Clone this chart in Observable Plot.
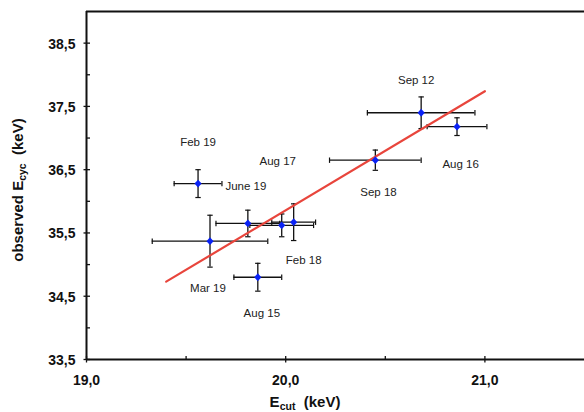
<!DOCTYPE html>
<html><head><meta charset="utf-8">
<script src="https://cdn.jsdelivr.net/npm/d3@7"></script>
<script src="https://cdn.jsdelivr.net/npm/@observablehq/plot@0.6"></script>
<style>
body{margin:0;background:#fff}
#chart svg{display:block}
</style>
</head><body><div id="chart"></div>
<script>
// Observations
const ecut    = [19.56, 19.62, 19.81, 19.98, 20.04, 19.86, 20.45, 20.68, 20.86];
const ecutErr = [0.12, 0.29, 0.16, 0.16, 0.11, 0.12, 0.23, 0.27, 0.15];
const ecyc    = [36.28, 35.37, 35.65, 35.62, 35.67, 34.80, 36.65, 37.40, 37.18];
const ecycErr = [0.22, 0.41, 0.21, 0.18, 0.29, 0.22, 0.16, 0.25, 0.14];

// Linear fit end points
const fitX = [19.40, 21.00];
const fitY = [34.73, 37.74];

// Annotations (data coordinates)
const labelText = ["Feb 19", "June 19", "Aug 17", "Mar 19", "Aug 15", "Feb 18", "Sep 12", "Sep 18", "Aug 16"];
const labelX    = [19.56, 19.80, 19.96, 19.61, 19.88, 20.09, 20.655, 20.466, 20.878];
const labelY    = [36.93, 36.24, 36.63, 34.63, 34.23, 35.07, 37.91, 36.145, 36.59];

// Axis ticks
const xTicks = [19.0, 20.0, 21.0];
const xMinor = [19.5, 20.5];
const yTicks = [33.5, 34.5, 35.5, 36.5, 37.5, 38.5];
const yMinor = [34, 35, 36, 37, 38];

const rows = ecut.map((x, i) => ({x, ex: ecutErr[i], y: ecyc[i], ey: ecycErr[i]}));
const fit = fitX.map((x, i) => ({x, y: fitY[i]}));
const labels = labelText.map((t, i) => ({t, x: labelX[i], y: labelY[i]}));
const fmt = d => d3.format(".1f")(d).replace(".", ",");

const seg = (x0, y0, x1, y1) => ({draw(ctx) { ctx.moveTo(x0, y0); ctx.lineTo(x1, y1); }});
const hCap = seg(-2.7, 0, 2.7, 0);
const vCap = seg(0, -2.7, 0, 2.7);
const yMajor = seg(-3, 0, 3.5, 0);
const yMin = seg(0, 0, 3.5, 0);
const xMajor = seg(0, -3.5, 0, 3);
const xMin = seg(0, 0, 0, -3.5);
const diamond = {draw(ctx) { const r = 3.9; ctx.moveTo(0, -r); ctx.lineTo(r * 0.92, 0); ctx.lineTo(0, r); ctx.lineTo(-r * 0.92, 0); ctx.closePath(); }};

const font = "'Liberation Sans', Arial, Helvetica, sans-serif";
const ink = "#111";

const chart = Plot.plot({
  width: 584, height: 412,
  marginLeft: 86, marginRight: 0, marginTop: 11, marginBottom: 53,
  style: {fontFamily: font, background: "#fff"},
  x: {domain: [19, 21.5], axis: null},
  y: {domain: [33.5, 39], axis: null},
  marks: [
    // error bars
    Plot.ruleY(rows, {y: "y", x1: d => d.x - d.ex, x2: d => d.x + d.ex, stroke: ink, strokeWidth: 1.3}),
    Plot.ruleX(rows, {x: "x", y1: d => d.y - d.ey, y2: d => d.y + d.ey, stroke: ink, strokeWidth: 1.3}),
    Plot.dot(rows, {x: d => d.x - d.ex, y: "y", symbol: vCap, fill: "none", stroke: ink, strokeWidth: 1.2}),
    Plot.dot(rows, {x: d => d.x + d.ex, y: "y", symbol: vCap, fill: "none", stroke: ink, strokeWidth: 1.2}),
    Plot.dot(rows, {x: "x", y: d => d.y - d.ey, symbol: hCap, fill: "none", stroke: ink, strokeWidth: 1.2}),
    Plot.dot(rows, {x: "x", y: d => d.y + d.ey, symbol: hCap, fill: "none", stroke: ink, strokeWidth: 1.2}),
    // fit line
    Plot.line(fit, {x: "x", y: "y", stroke: "#e8453c", strokeWidth: 2.2}),
    // points
    Plot.dot(rows, {x: "x", y: "y", symbol: diamond, fill: "#0a22f5", stroke: "none"}),
    // labels
    Plot.text(labels, {x: "x", y: "y", text: "t", fontSize: 11.5, fill: "#222"}),
    // frame
    Plot.ruleY([33.5, 39], {stroke: ink, strokeWidth: 2}),
    Plot.ruleX([19], {stroke: ink, strokeWidth: 2}),
    // ticks
    Plot.dot(yTicks, {x: () => 19, y: d => d, symbol: yMajor, fill: "none", stroke: ink, strokeWidth: 1.3}),
    Plot.dot(yMinor, {x: () => 19, y: d => d, symbol: yMin, fill: "none", stroke: ink, strokeWidth: 1.3}),
    Plot.dot(xTicks, {x: d => d, y: () => 33.5, symbol: xMajor, fill: "none", stroke: ink, strokeWidth: 1.3}),
    Plot.dot(xMinor, {x: d => d, y: () => 33.5, symbol: xMin, fill: "none", stroke: ink, strokeWidth: 1.3}),
    // tick labels
    Plot.text(yTicks, {x: () => 19, y: d => d, text: fmt, textAnchor: "end", dx: -11, dy: 1, fontSize: 14, fontWeight: "bold", fill: ink}),
    Plot.text(xTicks, {x: d => d, y: () => 33.5, text: fmt, dy: 21, fontSize: 14, fontWeight: "bold", fill: ink})
  ]
});

// axis titles with subscripts
const svg = d3.select(chart);
const yt = svg.append("text")
  .attr("transform", "translate(23,190) rotate(-90)")
  .attr("text-anchor", "middle")
  .attr("font-family", font).attr("font-weight", "bold").attr("font-size", 15)
  .attr("fill", ink).attr("xml:space", "preserve").style("white-space", "pre");
yt.append("tspan").text("observed E");
yt.append("tspan").attr("font-size", 10.5).attr("dy", 3).text("cyc");
yt.append("tspan").attr("dy", -3).text("  (keV)");

const xt = svg.append("text")
  .attr("x", 305).attr("y", 407)
  .attr("text-anchor", "middle")
  .attr("font-family", font).attr("font-weight", "bold").attr("font-size", 15)
  .attr("fill", ink).attr("xml:space", "preserve").style("white-space", "pre");
xt.append("tspan").text("E");
xt.append("tspan").attr("font-size", 10.5).attr("dy", 3).text("cut");
xt.append("tspan").attr("dy", -3).text("  (keV)");

document.getElementById("chart").append(chart);
</script>
</body></html>
